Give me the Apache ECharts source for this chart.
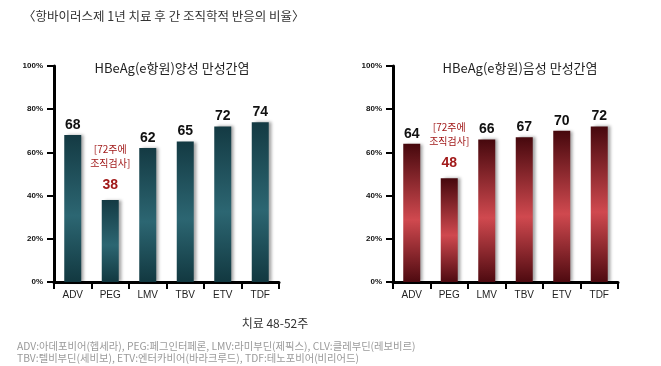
<!DOCTYPE html>
<html><head><meta charset="utf-8">
<script src="https://cdn.jsdelivr.net/npm/echarts@6/dist/echarts.min.js"></script>
<style>html,body{margin:0;padding:0;background:#fff}#c{width:661px;height:366px}</style>
</head><body><div id="c"></div>
<script>
const categories = ['ADV','PEG','LMV','TBV','ETV','TDF'];
const positiveValues = [68,38,62,65,72,74];
const negativeValues = [64,48,66,67,70,72];
const yTicks = [0,20,40,60,80,100];
const pegNote = ['[72주에','조직검사]'];
const mainTitle = '〈항바이러스제 1년 치료 후 간 조직학적 반응의 비율〉';
const leftTitle = 'HBeAg(e항원)양성 만성간염';
const rightTitle = 'HBeAg(e항원)음성 만성간염';
const xTitle = '치료 48-52주';
const footnote = ['ADV:아데포비어(헵세라), PEG:페그인터페론, LMV:라미부딘(제픽스), CLV:클레부딘(레보비르)',
                  'TBV:텔비부딘(세비보), ETV:엔터카비어(바라크루드), TDF:테노포비어(비리어드)'];

const KR = '"Noto Sans CJK KR","Noto Sans",sans-serif';
const chart = echarts.init(document.getElementById('c'));

function grad(c1,c2,c3){
  return new echarts.graphic.LinearGradient(0,0,0,1,[
    {offset:0,color:c1},{offset:0.55,color:c2},{offset:1,color:c3}]);
}
function mkSeries(vals, idx, colors, pegColor){
  return {
    type:'bar', xAxisIndex:idx, yAxisIndex:idx, barWidth:17,
    itemStyle:{color:grad(colors[0],colors[1],colors[2]), shadowColor:'rgba(0,0,0,0.35)', shadowBlur:3, shadowOffsetX:3, shadowOffsetY:0},
    label:{show:true, position:'top', distance:3, color:'#111', fontSize:14, fontWeight:'bold', fontFamily:'"Liberation Sans",Arial,sans-serif'},
    data: vals.map((v,i)=> categories[i]==='PEG' ? {
      value:v,
      label:{distance:8, formatter:'{n|'+pegNote[0]+'}\n{n|'+pegNote[1]+'}\n{v|{c}}',
        rich:{n:{color:pegColor,fontSize:10,fontFamily:KR,lineHeight:14,fontWeight:'normal'},
              v:{color:pegColor,fontSize:14,fontWeight:'bold',fontFamily:'"Liberation Sans",Arial,sans-serif',lineHeight:22,verticalAlign:'bottom'}}}
    } : v)
  };
}
function xAx(i){
  return {type:'category', gridIndex:i, data:categories,
    axisLine:{lineStyle:{color:'#000',width:3}},
    axisTick:{show:true,length:7,lineStyle:{color:'#000',width:2}},
    axisLabel:{color:'#222',fontSize:10,fontFamily:'"Liberation Sans",Arial,sans-serif',margin:8}};
}
function yAx(i){
  return {type:'value', gridIndex:i, min:0, max:100, interval:20,
    axisLine:{show:true,lineStyle:{color:'#000',width:3}},
    axisTick:{show:true,length:7,lineStyle:{color:'#000',width:2}},
    splitLine:{show:false},
    axisLabel:{formatter:v=>yTicks.includes(v)?v+'%':'', color:'#111',fontSize:8,fontWeight:'bold',fontFamily:'"Liberation Sans",Arial,sans-serif',margin:11}};
}
chart.setOption({
  animation:false,
  title:[
    {text:mainTitle,left:18,top:5,textStyle:{fontFamily:KR,fontSize:12.5,fontWeight:'normal',color:'#333'}},
    {text:leftTitle,left:167,textAlign:'center',top:57,textStyle:{fontFamily:KR,fontSize:13,fontWeight:'normal',color:'#222'}},
    {text:rightTitle,left:515,textAlign:'center',top:57,textStyle:{fontFamily:KR,fontSize:13,fontWeight:'normal',color:'#222'}},
    {text:xTitle,left:270,textAlign:'center',top:312,textStyle:{fontFamily:KR,fontSize:12,fontWeight:'normal',color:'#333'}},
    {text:footnote.join('\n'),left:12,top:335,textStyle:{fontFamily:KR,fontSize:10.3,fontWeight:'normal',color:'#9a9a9a',lineHeight:12}}
  ],
  grid:[
    {left:54,top:66,width:225,height:216},
    {left:393,top:66,width:225,height:216}
  ],
  xAxis:[xAx(0),xAx(1)],
  yAxis:[yAx(0),yAx(1)],
  series:[
    mkSeries(positiveValues,0,['#143a43','#2c6672','#123840'],'#a11a1a'),
    mkSeries(negativeValues,1,['#46080d','#d0494f','#4e0a10'],'#a11a1a')
  ]
});
</script></body></html>
